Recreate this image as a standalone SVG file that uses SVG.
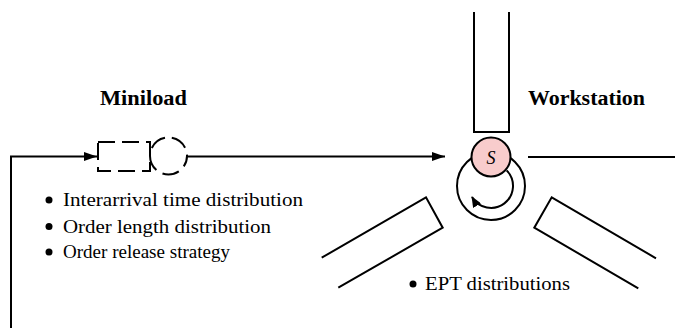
<svg xmlns="http://www.w3.org/2000/svg" width="675" height="328" viewBox="0 0 675 328">
<style>
.ln{fill:none;stroke:#000;stroke-width:2}
.dash{fill:none;stroke:#000;stroke-width:2;stroke-dasharray:17 7}
.title{font-family:"Liberation Serif",serif;font-weight:bold;font-size:20px;fill:#000}
.txt{font-family:"Liberation Serif",serif;font-size:19.5px;fill:#000}
.bul{fill:#000}
</style>
<defs>
<marker id="ah" markerUnits="userSpaceOnUse" markerWidth="13" markerHeight="9" refX="13" refY="4.5" orient="auto">
<path d="M0,0 L13,4.5 L0,9 z" fill="#000"/>
</marker>
<marker id="ah2" markerUnits="userSpaceOnUse" markerWidth="11" markerHeight="9" refX="10" refY="4.5" orient="auto">
<path d="M0,0 L11,4.5 L0,9 z" fill="#000"/>
</marker>
</defs>
<g id="connectors">
<path class="ln" d="M11,328 L11,156.5 L97,156.5" marker-end="url(#ah)"/>
<path class="ln" d="M187,156.5 L445,156.5" marker-end="url(#ah)"/>
<path class="ln" d="M528,157 L675,157"/>
</g>
<g id="miniload">
<text class="title" x="100" y="105" textLength="87" lengthAdjust="spacingAndGlyphs">Miniload</text>
<rect class="dash" x="98" y="142" width="52" height="29"/>
<circle class="dash" cx="168.5" cy="156" r="18.5" stroke-dasharray="15 6" stroke-dashoffset="6"/>
</g>
<g id="miniload-list">
<circle class="bul" cx="49" cy="200" r="3.5"/>
<text class="txt" x="63" y="206" textLength="240" lengthAdjust="spacingAndGlyphs">Interarrival time distribution</text>
<circle class="bul" cx="49" cy="226.5" r="3.5"/>
<text class="txt" x="63" y="232.5" textLength="208" lengthAdjust="spacingAndGlyphs">Order length distribution</text>
<circle class="bul" cx="49" cy="252" r="3.5"/>
<text class="txt" x="63" y="258" textLength="167" lengthAdjust="spacingAndGlyphs">Order release strategy</text>
</g>
<g id="workstation">
<text class="title" x="528" y="105" textLength="117" lengthAdjust="spacingAndGlyphs">Workstation</text>
<path class="ln" d="M474,12 L474,132 L509,132 L509,12"/>
<path class="ln" d="M321.7,257.7 L426,197.3 L442.7,227.7 L338.3,287.7"/>
<path class="ln" d="M656,258.3 L551.7,197.3 L534.3,227.7 L638.3,288.3"/>
<circle class="ln" cx="491" cy="186" r="34"/>
<path class="ln" d="M506.6,170.4 A22,22 0 1 1 472,197" marker-end="url(#ah2)"/>
<circle cx="491" cy="157" r="19.5" fill="#f8cccc" stroke="#000" stroke-width="2"/>
<text x="491" y="163.5" text-anchor="middle" font-family="'Liberation Serif',serif" font-style="italic" font-size="18" fill="#000">S</text>
</g>
<g id="ept">
<circle class="bul" cx="413" cy="284" r="3.5"/>
<text class="txt" x="425" y="290" textLength="145" lengthAdjust="spacingAndGlyphs">EPT distributions</text>
</g>
</svg>
